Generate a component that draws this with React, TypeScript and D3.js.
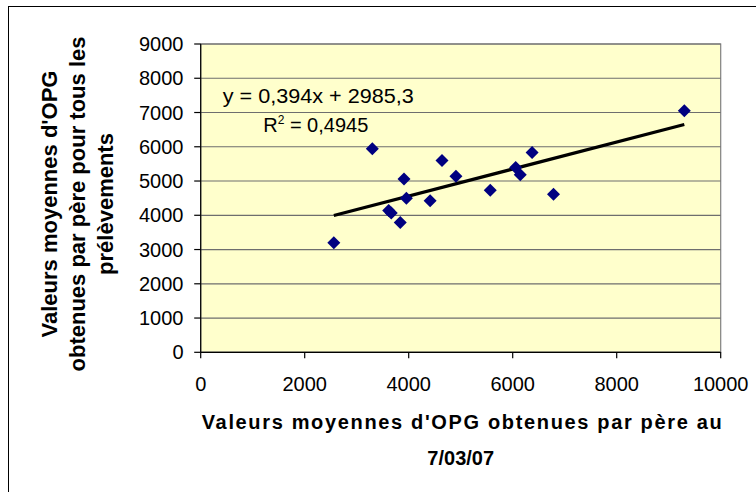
import React from "react";
import * as d3 from "d3";

const xValues = [2560, 3300, 3910, 3955, 3615, 3665, 3838, 4412, 4640, 4908, 5568, 6058, 6145, 6373, 6785, 9300];
const yValues = [3200, 5945, 5058, 4495, 4140, 4068, 3790, 4426, 5598, 5136, 4728, 5395, 5185, 5833, 4612, 7053];
const xTicks = [0, 2000, 4000, 6000, 8000, 10000];
const yTicks = [0, 1000, 2000, 3000, 4000, 5000, 6000, 7000, 8000, 9000];
const trendSlope = 0.394;
const trendIntercept = 2985.3;
const equationText = "y = 0,394x + 2985,3";
const r2Value = "0,4945";
const yTitleLines = ["Valeurs moyennes d'OPG", "obtenues par père pour tous les", "prélèvements"];
const xTitleLines = ["Valeurs moyennes d'OPG obtenues par père au", "7/03/07"];

const FONT = "'Liberation Sans', Arial, Helvetica, sans-serif";

export default function App() {
  const W = 756, H = 492;
  const left = 200.7, right = 720.7, top = 44, bottom = 352.3;
  const x = d3.scaleLinear().domain([0, 10000]).range([left, right]);
  const y = d3.scaleLinear().domain([0, 9000]).range([bottom, top]);

  const xMin = d3.min(xValues) as number;
  const xMax = d3.max(xValues) as number;
  const trend = d3.line<number>()
    .x((d) => x(d))
    .y((d) => y(trendSlope * d + trendIntercept));

  const diamond = (cx: number, cy: number, r: number) =>
    `M${cx},${cy - r}L${cx + r},${cy}L${cx},${cy + r}L${cx - r},${cy}Z`;

  const yTitleX = [57, 85.4, 113.4];

  return (
    <svg
      width={W}
      height={H}
      style={{ position: "absolute", left: 0, top: 0, background: "#fff" }}
      fontFamily={FONT}
    >
      <rect x={0} y={0} width={W} height={H} fill="#fff" />
      <rect x={8.5} y={6.5} width={900} height={700} fill="none" stroke="#000" strokeWidth={1} />

      {/* plot area */}
      <rect x={left} y={top} width={right - left} height={bottom - top} fill="#FFFFCC" stroke="#808080" strokeWidth={1.2} />

      {/* gridlines */}
      {yTicks.map((t) => (
        <line key={"g" + t} x1={left} x2={right} y1={y(t)} y2={y(t)} stroke="#6e6e6e" strokeWidth={1.2} />
      ))}

      {/* axes */}
      <line x1={left} x2={left} y1={top} y2={bottom} stroke="#000" strokeWidth={1.2} />
      <line x1={left} x2={right} y1={bottom} y2={bottom} stroke="#000" strokeWidth={1.2} />
      {yTicks.map((t) => (
        <line key={"yt" + t} x1={left - 6.5} x2={left} y1={y(t)} y2={y(t)} stroke="#000" strokeWidth={1.2} />
      ))}
      {xTicks.map((t) => (
        <line key={"xt" + t} x1={x(t)} x2={x(t)} y1={bottom} y2={bottom + 6} stroke="#000" strokeWidth={1.2} />
      ))}

      {/* tick labels */}
      {yTicks.map((t) => (
        <text key={"yl" + t} x={183.5} y={y(t) + 7} textAnchor="end" fontSize={20} fill="#000">
          {t}
        </text>
      ))}
      {xTicks.map((t) => (
        <text key={"xl" + t} x={x(t)} y={391} textAnchor="middle" fontSize={20} fill="#000">
          {t}
        </text>
      ))}

      {/* trend line */}
      <path d={trend([xMin, xMax]) || ""} fill="none" stroke="#000" strokeWidth={3.2} />

      {/* points */}
      {xValues.map((xv, i) => (
        <path key={"p" + i} d={diamond(x(xv), y(yValues[i]), 6.5)} fill="#000080" />
      ))}

      {/* equation */}
      <text x={222.8} y={102.6} fontSize={20} fill="#000" textLength={191} lengthAdjust="spacingAndGlyphs">
        {equationText}
      </text>
      <text x={263.2} y={131.6} fontSize={20} fill="#000">
        R<tspan fontSize={12} dy={-8}>2</tspan>
        <tspan dy={8}>{" = " + r2Value}</tspan>
      </text>

      {/* y title */}
      {yTitleLines.map((line, i) => (
        <text
          key={"yt" + i}
          transform={`translate(${yTitleX[i]},204) rotate(-90)`}
          textAnchor="middle"
          fontSize={22}
          fontWeight="bold"
          fill="#000"
        >
          {line}
        </text>
      ))}

      {/* x title */}
      <text x={201.7} y={429.3} fontSize={20} fontWeight="bold" fill="#000" textLength={520} lengthAdjust="spacing">
        {xTitleLines[0]}
      </text>
      <text x={(left + right) / 2} y={465} textAnchor="middle" fontSize={20} fontWeight="bold" fill="#000">
        {xTitleLines[1]}
      </text>
    </svg>
  );
}
